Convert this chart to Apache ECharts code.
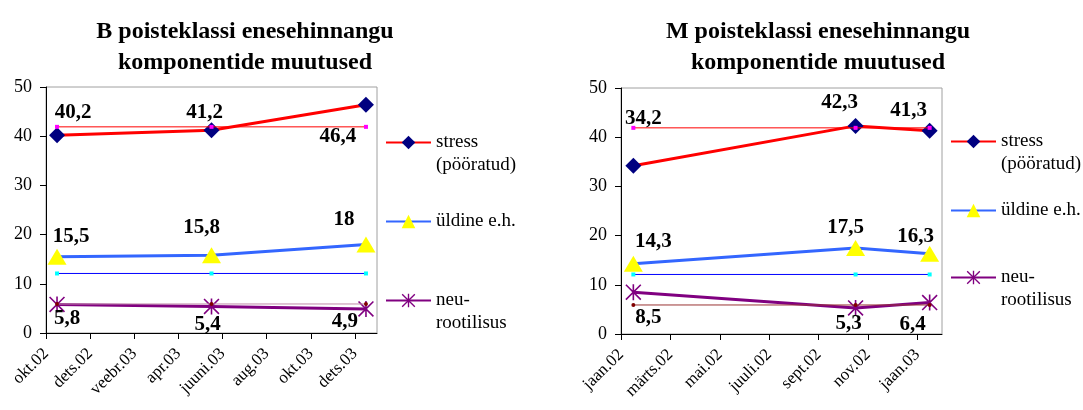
<!DOCTYPE html>
<html>
<head>
<meta charset="utf-8">
<script src="https://cdn.jsdelivr.net/npm/echarts@6/dist/echarts.min.js"></script>
<style>html,body{margin:0;padding:0;background:#fff;}#c{width:1083px;height:410px;}</style>
</head>
<body>
<div id="c"></div>
<script>
// ---------- data ----------
const leftTitle = 'B poisteklassi enesehinnangu\nkomponentide muutused';
const rightTitle = 'M poisteklassi enesehinnangu\nkomponentide muutused';

const leftAxisStart = '2002-10';
const leftAxisMonths = 15;
const leftTickLabels = ['okt.02','dets.02','veebr.03','apr.03','juuni.03','aug.03','okt.03','dets.03'];
const leftDates = ['2002-10','2003-05','2003-12'];
const leftStress = [40.2, 41.2, 46.4];
const leftUldine = [15.5, 15.8, 18];
const leftNeuro = [5.8, 5.4, 4.9];

const rightAxisStart = '2002-01';
const rightAxisMonths = 13;
const rightTickLabels = ['jaan.02','märts.02','mai.02','juuli.02','sept.02','nov.02','jaan.03'];
const rightDates = ['2002-01','2002-10','2003-01'];
const rightStress = [34.2, 42.3, 41.3];
const rightUldine = [14.3, 17.5, 16.3];
const rightNeuro = [8.5, 5.3, 6.4];

// reference (norm) levels
const normStress = 41.9;
const normUldine = 12.1;
const normNeuro = 5.9;

const seriesNames = ['stress (pööratud)', 'üldine e.h.', 'neu-rootilisus'];
const legendTexts = [' \nstress\n(pööratud)', 'üldine e.h.', ' \nneu-\nrootilisus'];

// ---------- styling ----------
const FONT = "'Liberation Serif', 'Times New Roman', serif";
const leftLabelOffsets = {
  stress: [[16,-23],[-7,-18],[-28,32]],
  uldine: [[14,-20],[-10,-28],[-22,-25]],
  neuro:  [[10,14],[-4,18],[-21,13]]
};
const rightLabelOffsets = {
  stress: [[10,-47],[-16,-23],[-21,-20]],
  uldine: [[20,-22],[-10,-20],[-14,-17]],
  neuro:  [[15,25],[-7,16],[-17,22]]
};
const asterisk = 'path://M9,0 L11,0 L11,20 L9,20 Z M0,1.4 L1.4,0 L20,18.6 L18.6,20 Z M18.6,0 L20,1.4 L1.4,20 L0,18.6 Z';

function monthOffset(d, start) {
  const [y, m] = d.split('-').map(Number);
  const [y0, m0] = start.split('-').map(Number);
  return (y - y0) * 12 + (m - m0) + 0.5; // mid-month
}
function fmt(v) { return String(v).replace('.', ','); }

function mainSeries(idx, name, dates, start, values, offsets, style) {
  return {
    type: 'line', name: name, xAxisIndex: idx, yAxisIndex: idx,
    data: values.map((v, i) => ({ value: [monthOffset(dates[i], start), v], label: { offset: offsets[i] } })),
    symbol: style.symbol, symbolSize: style.symbolSize, z: 3,
    lineStyle: { color: style.line, width: 3 },
    itemStyle: { color: style.marker },
    label: { show: true, position: 'inside', formatter: p => fmt(p.value[1]),
      fontFamily: FONT, fontSize: 21, fontWeight: 'bold', color: '#000' },
    emphasis: { disabled: true }, silent: true
  };
}
function normSeries(idx, dates, start, level, lineColor, markerColor, symbol) {
  return {
    type: 'line', name: '_norm', xAxisIndex: idx, yAxisIndex: idx, z: 4,
    data: dates.map(d => [monthOffset(d, start), level]),
    symbol: symbol, symbolSize: 4,
    lineStyle: { color: lineColor, width: 1 },
    itemStyle: { color: markerColor },
    emphasis: { disabled: true }, silent: true
  };
}
const styles = {
  stress: { line: '#ff0000', marker: '#000080', symbol: 'diamond', symbolSize: 16 },
  uldine: { line: '#3366ff', marker: '#ffff00', symbol: 'triangle', symbolSize: [19, 16] },
  neuro:  { line: '#800080', marker: '#800080', symbol: asterisk, symbolSize: 16 }
};

function xAxis(idx, labels, months) {
  const ticks = labels.map((_, i) => i * 2);
  return {
    type: 'value', gridIndex: idx, min: 0, max: months,
    splitLine: { show: false },
    axisLine: { lineStyle: { color: '#000', width: 1 } },
    axisTick: { length: 6, lineStyle: { color: '#000' }, customValues: ticks },
    axisLabel: { customValues: ticks, rotate: 45, margin: 18, fontFamily: FONT, fontSize: 17, color: '#000',
      formatter: v => labels[Math.round(v / 2)] }
  };
}
function yAxis(idx) {
  return {
    type: 'value', gridIndex: idx, min: 0, max: 50, interval: 10,
    splitLine: { show: false },
    axisLine: { show: true, lineStyle: { color: '#000', width: 1 } },
    axisTick: { show: true, length: 6, lineStyle: { color: '#000' } },
    axisLabel: { margin: 14, fontFamily: FONT, fontSize: 18, color: '#000' }
  };
}
function legendItem(i, left, top) {
  return {
    data: [seriesNames[i]], left: left, top: top, orient: 'vertical', padding: 0,
    itemWidth: 45, itemHeight: 17, selectedMode: false,
    formatter: n => legendTexts[seriesNames.indexOf(n)],
    textStyle: { fontFamily: FONT, fontSize: 19, color: '#000', lineHeight: 23 }
  };
}

const option = {
  animation: false,
  backgroundColor: '#fff',
  title: [
    { text: leftTitle, left: 245, top: 16, padding: 0, textAlign: 'center',
      textStyle: { fontFamily: FONT, fontSize: 24, fontWeight: 'bold', color: '#000', lineHeight: 31 } },
    { text: rightTitle, left: 818, top: 16, padding: 0, textAlign: 'center',
      textStyle: { fontFamily: FONT, fontSize: 24, fontWeight: 'bold', color: '#000', lineHeight: 31 } }
  ],
  grid: [
    { left: 46, top: 87, width: 331, height: 246, show: true, borderColor: '#a0a0a0', borderWidth: 1, backgroundColor: 'transparent' },
    { left: 621, top: 88, width: 321, height: 246, show: true, borderColor: '#a0a0a0', borderWidth: 1, backgroundColor: 'transparent' }
  ],
  xAxis: [xAxis(0, leftTickLabels, leftAxisMonths), xAxis(1, rightTickLabels, rightAxisMonths)],
  yAxis: [yAxis(0), yAxis(1)],
  legend: [
    legendItem(0, 385, 108), legendItem(1, 385, 210), legendItem(2, 385, 266),
    legendItem(0, 950, 107), legendItem(1, 950, 199), legendItem(2, 950, 243)
  ],
  series: [
    mainSeries(0, seriesNames[0], leftDates, leftAxisStart, leftStress, leftLabelOffsets.stress, styles.stress),
    mainSeries(0, seriesNames[1], leftDates, leftAxisStart, leftUldine, leftLabelOffsets.uldine, styles.uldine),
    mainSeries(0, seriesNames[2], leftDates, leftAxisStart, leftNeuro, leftLabelOffsets.neuro, styles.neuro),
    normSeries(0, leftDates, leftAxisStart, normStress, '#ff0000', '#ff00ff', 'rect'),
    normSeries(0, leftDates, leftAxisStart, normUldine, '#0000ff', '#00ffff', 'rect'),
    normSeries(0, leftDates, leftAxisStart, normNeuro, '#c08aa8', '#800000', 'circle'),
    mainSeries(1, seriesNames[0], rightDates, rightAxisStart, rightStress, rightLabelOffsets.stress, styles.stress),
    mainSeries(1, seriesNames[1], rightDates, rightAxisStart, rightUldine, rightLabelOffsets.uldine, styles.uldine),
    mainSeries(1, seriesNames[2], rightDates, rightAxisStart, rightNeuro, rightLabelOffsets.neuro, styles.neuro),
    normSeries(1, rightDates, rightAxisStart, normStress, '#ff0000', '#ff00ff', 'rect'),
    normSeries(1, rightDates, rightAxisStart, normUldine, '#0000ff', '#00ffff', 'rect'),
    normSeries(1, rightDates, rightAxisStart, normNeuro, '#993333', '#800000', 'circle')
  ]
};
const chart = echarts.init(document.getElementById('c'), null, { renderer: 'canvas' });
chart.setOption(option);
</script>
</body>
</html>
